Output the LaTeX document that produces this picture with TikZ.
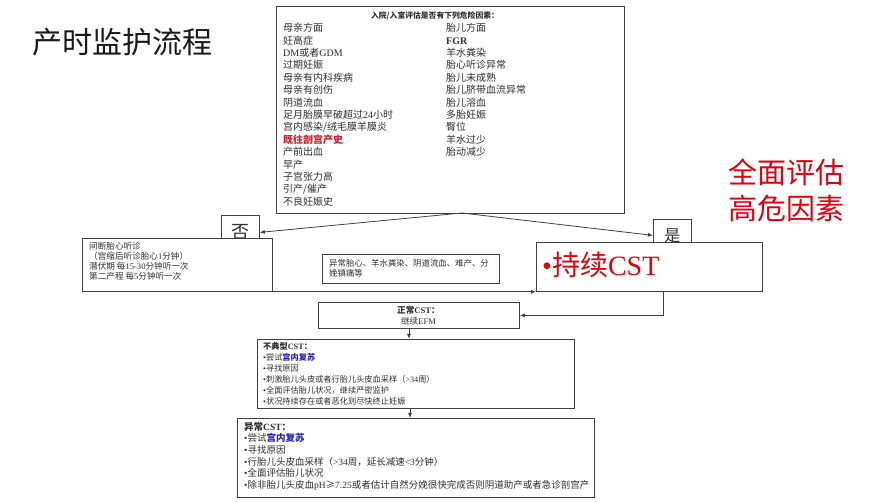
\documentclass[tikz,border=0pt]{standalone}
\usepackage{fontspec}
\setmainfont{Noto Sans CJK SC}
\newfontfamily\latf{Liberation Serif}
\newcommand{\lt}[1]{{\latf #1}}
\usetikzlibrary{arrows.meta,calc}
\definecolor{linec}{HTML}{404040}
\definecolor{txtc}{HTML}{2E2E2E}
\definecolor{redt}{HTML}{D0202E}
\definecolor{redbig}{HTML}{E0000F}
\definecolor{bluet}{HTML}{2222C0}
\begin{document}
\begin{tikzpicture}[x=1pt,y=-1pt,
  box/.style={draw=linec, line width=0.8pt, fill=white, inner sep=0pt, anchor=north west},
  txt/.style={inner sep=0pt, text=txtc, align=left, anchor=north west},
  arr/.style={draw=linec, line width=0.8pt, -{Latex[length=5pt,width=4pt]}}]
\useasboundingbox[fill=white] (0,0) rectangle (873,502);

% title
\node[inner sep=0pt, text=black!90, font=\fontsize{30}{30}\selectfont] (title) at (122.5,42.5) {产时监护流程};

% red label
\node[inner sep=0pt, text=redbig, align=center, font=\fontsize{29}{36}\selectfont] (label) at (786.5,190) {全面评估\\高危因素};

% top box
\node[box, minimum width=348pt, minimum height=207pt] (top) at (276,6) {};
\node[txt, anchor=north, align=center, font=\bfseries\fontsize{7.8}{9}\selectfont] (head) at (435,11.5) {入院/入室评估是否有下列危险因素：};
\node[txt, font=\fontsize{10}{12.4}\selectfont] (lcol) at (283,23) {母亲方面\\妊高症\\\lt{DM}或者\lt{GDM}\\过期妊娠\\母亲有内科疾病\\母亲有创伤\\阴道流血\\足月胎膜早破超过\lt{24}小时\\宫内感染/绒毛膜羊膜炎\\{\color{redt}\bfseries 既往剖宫产史}\\产前出血\\早产\\子宫张力高\\引产/催产\\不良妊娠史};
\node[txt, font=\fontsize{10}{12.4}\selectfont] (rcol) at (446,23) {胎儿方面\\\lt{\bfseries FGR}\\羊水粪染\\胎心听诊异常\\胎儿未成熟\\胎儿脐带血流异常\\胎儿溶血\\多胎妊娠\\臀位\\羊水过少\\胎动减少};

% no / yes boxes
\node[box, minimum width=38pt, minimum height=34pt, text=txtc, font=\fontsize{18}{18}\selectfont] (no) at (221,215) {否};
\node[box, minimum width=38pt, minimum height=32pt, text=txtc, font=\fontsize{16}{16}\selectfont] (yes) at (653,219) {是};

% left box
\node[box, minimum width=190pt, minimum height=53pt] (left) at (82,238) {};
\node[txt, font=\fontsize{8.6}{10}\selectfont] (leftt) at (89,242.5) {间断胎心听诊\\（宫缩后听诊胎心\lt{1}分钟）\\潜伏期 每\lt{15-30}分钟听一次\\第二产程 每\lt{5}分钟听一次};

% middle box
\node[box, minimum width=177pt, minimum height=29pt] (mid) at (322,254) {};
\node[txt, font=\fontsize{8.4}{10}\selectfont] (midt) at (329,259) {异常胎心、羊水粪染、阴道流血、难产、分\\娩镇痛等};

% CST box
\node[box, minimum width=226pt, minimum height=49pt] (cst) at (536,242) {};
\node[inner sep=0pt, anchor=west, text=redbig, font=\fontsize{28}{28}\selectfont] (cstt) at (542,265) {\lt{•}持续\lt{CST}};

% normal CST
\node[box, minimum width=201pt, minimum height=26pt] (normal) at (318,302) {};
\node[inner sep=0pt, align=center, text=txtc, font=\fontsize{8.6}{11}\selectfont] (normalt) at (418.5,316) {\textbf{正常\lt{CST}：}\\继续\lt{EFM}};

% atypical CST
\node[box, minimum width=317pt, minimum height=69pt] (atyp) at (257,339) {};
\node[txt, font=\fontsize{8.2}{11}\selectfont] (atypt) at (263,342.5) {\textbf{不典型\lt{CST}：}\\\lt{•}尝试{\color{bluet}\bfseries 宫内复苏}\\\lt{•}寻找原因\\\lt{•}刺激胎儿头皮或者行胎儿头皮血采样（\lt{>34}周）\\\lt{•}全面评估胎儿状况，继续严密监护\\\lt{•}状况持续存在或者恶化则尽快终止妊娠};

% abnormal CST
\node[box, minimum width=357pt, minimum height=79pt] (abn) at (237,418) {};
\node[txt, font=\fontsize{9.5}{11.6}\selectfont] (abnt) at (244,422) {\textbf{异常\lt{CST}：}\\\lt{•}尝试{\color{bluet}\bfseries 宫内复苏}\\\lt{•}寻找原因\\\lt{•}行胎儿头皮血采样（\lt{>34}周，延长减速\lt{<3}分钟）\\\lt{•}全面评估胎儿状况\\\lt{•}除非胎儿头皮血\lt{pH}≥\lt{7.25}或者估计自然分娩很快完成否则阴道助产或者急诊剖宫产};

% connectors
\coordinate (apex) at (462,213);
\draw[arr] (apex) -- (no.east);
\draw[arr] (apex) -- (yes.west);
\draw[arr] (left.south east) -- (left.south east -| cst.west);
\coordinate (fb) at (663,291);
\draw[arr] (fb) |- (normal.east);
\coordinate (v1) at (409,328);
\draw[arr] (v1) -- (v1 |- atyp.north);
\coordinate (v2) at (410,408);
\draw[arr] (v2) -- (v2 |- abn.north);
\end{tikzpicture}
\end{document}
